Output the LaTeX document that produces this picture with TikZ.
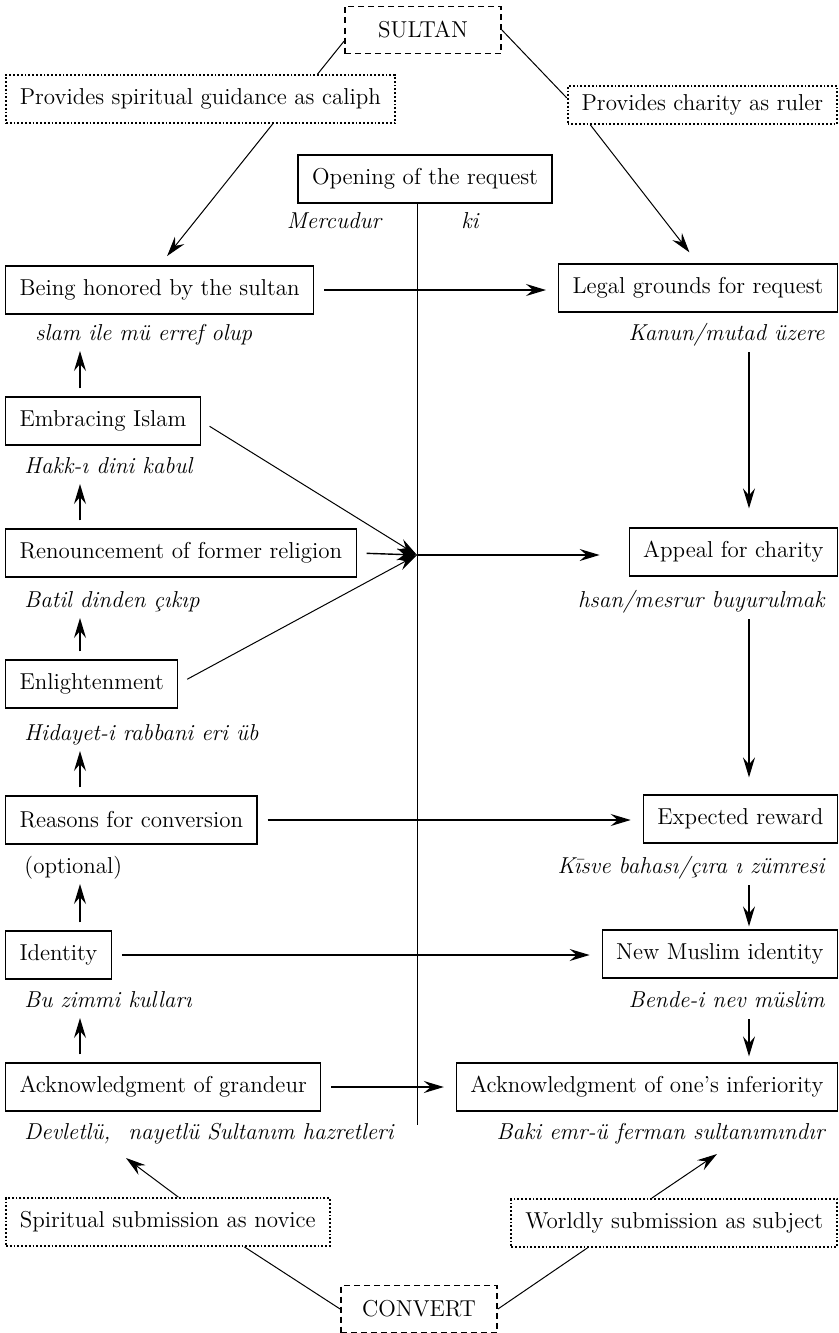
\documentclass[tikz,border=0pt]{standalone}
\usepackage{tikz}
\usetikzlibrary{arrows.meta}

\tikzset{
    box/.style={draw, line width=0.6pt, minimum height=24pt, inner xsep=7pt, font=\fontsize{11.5}{14}\selectfont},
    dotbox/.style={draw, densely dotted, line width=0.9pt, minimum height=24pt, inner xsep=7pt, font=\fontsize{11.5}{14}\selectfont},
    dashbox/.style={draw, densely dashed, line width=0.9pt, minimum height=23.5pt, minimum width=78pt, font=\fontsize{11.5}{14}\selectfont},
    tr/.style={inner sep=0pt, text height=8pt, text depth=2.5pt, font=\fontsize{11.5}{14}\selectfont\itshape},
    arr/.style={->, line width=0.7pt, shorten <=5pt, shorten >=6pt},
    up/.style={->, line width=0.6pt, shorten <=4pt, shorten >=2.5pt},
    dn/.style={->, line width=0.6pt, shorten <=3pt}
}

\begin{document}
\begin{tikzpicture}[x=0.5pt, y=-0.5pt, line width=0.5pt, >={Stealth[length=10pt, width=6pt, inset=3.5pt]}]
    \useasboundingbox (0,0) rectangle (839,1333);

    % top
    \node[dashbox] (sultan) at (423,30) {SULTAN};
    \node[dotbox, anchor=west] (caliph) at (5,99) {Provides spiritual guidance as caliph};
    \node[dotbox, anchor=east, minimum height=19pt] (charity) at (838,105) {Provides charity as ruler};
    \node[box] (opening) at (425,179) {Opening of the request};
    \node[tr] (mercudur) at (334,223) {Mercudur};
    \node[tr] (ki) at (470,223) {ki};

    % left column
    \node[box, anchor=west] (honored) at (5,290) {Being honored by the sultan};
    \node[tr, anchor=west] (islam) at (24,335) {\hspace{5.5pt}slam ile mü\hspace{4pt}erref olup};
    \node[box, anchor=west] (embrace) at (5,421) {Embracing Islam};
    \node[tr, anchor=west] (hakk) at (24,468) {Hakk-ı dini kabul};
    \node[box, anchor=west] (renounce) at (5,553) {Renouncement of former religion};
    \node[tr, anchor=west] (batil) at (24,602) {Batil dinden çıkıp};
    \node[box, anchor=west] (enlight) at (5,684) {Enlightenment};
    \node[tr, anchor=west] (hidayet) at (24,735) {Hidayet-i rabbani eri\hspace{4pt}üb};
    \node[box, anchor=west] (reasons) at (5,820) {Reasons for conversion};
    \node[tr, anchor=west, font=\fontsize{11.5}{14}\selectfont] (optional) at (24,868) {(optional)};
    \node[box, anchor=west] (identity) at (5,955) {Identity};
    \node[tr, anchor=west] (zimmi) at (24,1002) {Bu zimmi kulları};
    \node[box, anchor=west] (grandeur) at (5,1087) {Acknowledgment of grandeur};
    \node[tr, anchor=west] (devlet) at (24,1134) {Devletlü,\hspace{9pt}nayetlü Sultanım hazretleri};
    \node[dotbox, anchor=west] (spiritual) at (5,1222) {Spiritual submission as novice};

    % right column
    \node[box, anchor=east] (legal) at (838,288) {Legal grounds for request};
    \node[tr, anchor=east] (kanun) at (825,335) {Kanun/mutad üzere};
    \node[box, anchor=east] (appeal) at (838,552) {Appeal for charity};
    \node[tr, anchor=east] (ihsan) at (825,602) {hsan/mesrur buyurulmak};
    \node[box, anchor=east] (reward) at (838,819) {Expected reward};
    \node[tr, anchor=east] (kisve) at (825,868) {Kīsve bahası/çıra\hspace{4pt}ı zümresi};
    \node[box, anchor=east] (muslim) at (838,954) {New Muslim identity};
    \node[tr, anchor=east] (bende) at (825,1002) {Bende-i nev müslim};
    \node[box, anchor=east] (inferior) at (838,1087) {Acknowledgment of one's inferiority};
    \node[tr, anchor=east] (baki) at (825,1134) {Baki emr-ü ferman sultanımındır};
    \node[dotbox, anchor=east] (worldly) at (838,1223) {Worldly submission as subject};

    \node[dashbox] (convert) at (419,1309) {CONVERT};

    \coordinate (hub) at (417,555);
    \coordinate (axisend) at (417,1125);
    \coordinate (lcol) at (80,0);
    \coordinate (rcol) at (749,0);
    \coordinate (devtip) at (126,1158);
    \coordinate (bakitip) at (717,1154);

    % sultan side
    \draw (sultan.188) -- (caliph.12);
    \draw (sultan.east) -- (charity.177);
    \draw[->, shorten >=6pt] (caliph.-19) -- (honored.north);
    \draw[->, shorten >=7pt] ([xshift=-56pt]charity.south) -- (legal.north);
    \draw (opening.south -| hub) -- (axisend);

    % across
    \draw[arr] (honored.east) -- (honored.east -| legal.west);
    \draw[arr] (reasons.east) -- (reasons.east -| reward.west);
    \draw[arr] (identity.east) -- (identity.east -| muslim.west);
    \draw[arr] (grandeur.east) -- (grandeur.east -| inferior.west);
    \draw[->, shorten <=5pt] (embrace.east) -- (hub);
    \draw[->, line width=0.7pt, shorten <=5pt] (renounce.east) -- (hub);
    \draw[->, shorten <=5pt] (enlight.east) -- (hub);
    \draw[->, line width=0.7pt, shorten >=14.5pt] (hub) -- (hub -| appeal.west);

    % left steps
    \draw[up] (embrace.north -| lcol) -- (islam.south -| lcol);
    \draw[up] (renounce.north -| lcol) -- (hakk.south -| lcol);
    \draw[up] (enlight.north -| lcol) -- (batil.south -| lcol);
    \draw[up] (reasons.north -| lcol) -- (hidayet.south -| lcol);
    \draw[up] (identity.north -| lcol) -- (optional.south -| lcol);
    \draw[up] (grandeur.north -| lcol) -- (zimmi.south -| lcol);

    % right steps
    \draw[dn, shorten >=9.5pt] (kanun.south -| rcol) -- (appeal.north -| rcol);
    \draw[dn, shorten >=8.5pt] (ihsan.south -| rcol) -- (reward.north -| rcol);
    \draw[dn, shorten >=1.5pt] (kisve.south -| rcol) -- (muslim.north -| rcol);
    \draw[dn, shorten >=3pt] (bende.south -| rcol) -- (inferior.north -| rcol);

    % convert side
    \draw (spiritual.-18) -- (convert.west);
    \draw (worldly.196) -- (convert.east);
    \draw[->] (spiritual.67) -- (devtip);
    \draw[->] (worldly.132) -- (bakitip);
\end{tikzpicture}
\end{document}
